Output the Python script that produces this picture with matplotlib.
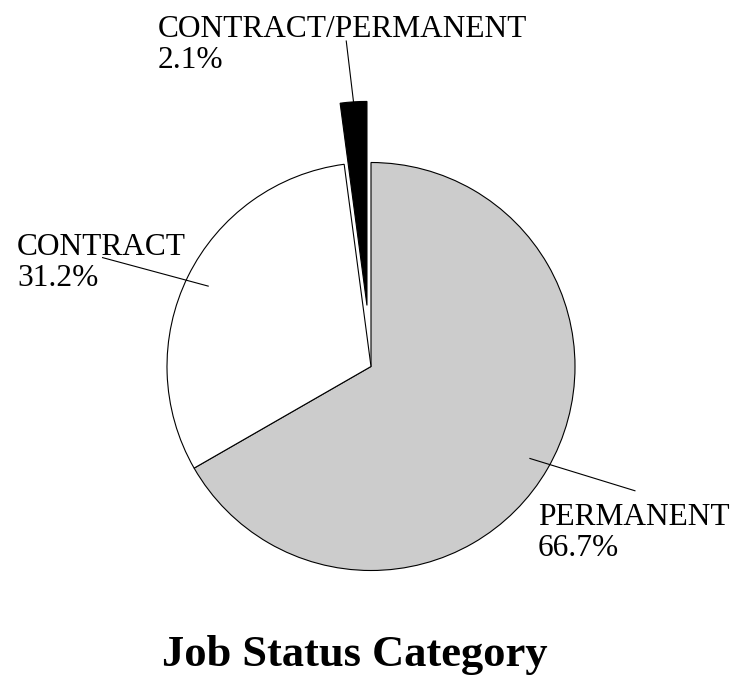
import numpy as np
import matplotlib.pyplot as plt

plt.rcParams['font.family'] = ['Liberation Serif', 'DejaVu Serif']

# Data
labels = ['PERMANENT', 'CONTRACT', 'CONTRACT/PERMANENT']
shares = [66.7, 31.2, 2.1]
colors = ['#cccccc', 'white', 'black']
explode = [0, 0, 0.3]

W, H = 736, 679
cx, cy, R = 371, 366.5, 204  # pie centre / radius in pixels

fig = plt.figure(figsize=(W / 100, H / 100), dpi=100)
ax = fig.add_axes([0, 0, 1, 1])

wedges, _ = ax.pie(shares, colors=colors, explode=explode, startangle=90,
                   counterclock=False,
                   wedgeprops=dict(edgecolor='black', linewidth=0.8))

ax.set_xlim(-cx / R, (W - cx) / R)
ax.set_ylim(-(H - cy) / R, cy / R)
ax.set_aspect('equal')
ax.axis('off')

# label text position (pixels, left / baseline of last line) and leader geometry
text_px = [(538, 556), (17, 286), (158, 68)]
lead_in = [0.9, 0.89, 1.0]
lead_out = [1.43, 1.42, 1.3]
lead_dang = [4.85, 4.2, 0.7]

for w, lab, val, (tx, ty), fi, fo, da in zip(wedges, labels, shares, text_px,
                                              lead_in, lead_out, lead_dang):
    mid = (w.theta1 + w.theta2) / 2
    x0, y0 = w.center
    a1 = np.deg2rad(mid)
    a2 = np.deg2rad(mid + da)
    ax.plot([x0 + w.r * fi * np.cos(a1), x0 + w.r * fo * np.cos(a2)],
            [y0 + w.r * fi * np.sin(a1), y0 + w.r * fo * np.sin(a2)],
            color='black', lw=0.8)
    ax.text((tx - cx) / R, (cy - ty) / R, f'{lab}\n{val:.1f}%',
            fontsize=22.6, ha='left', va='baseline', linespacing=1.1)

fig.text(354.5 / W, 1 - 666 / H, 'Job Status Category', ha='center',
         va='baseline', fontsize=32, fontweight='bold')

fig.savefig('out.png', dpi=100)
